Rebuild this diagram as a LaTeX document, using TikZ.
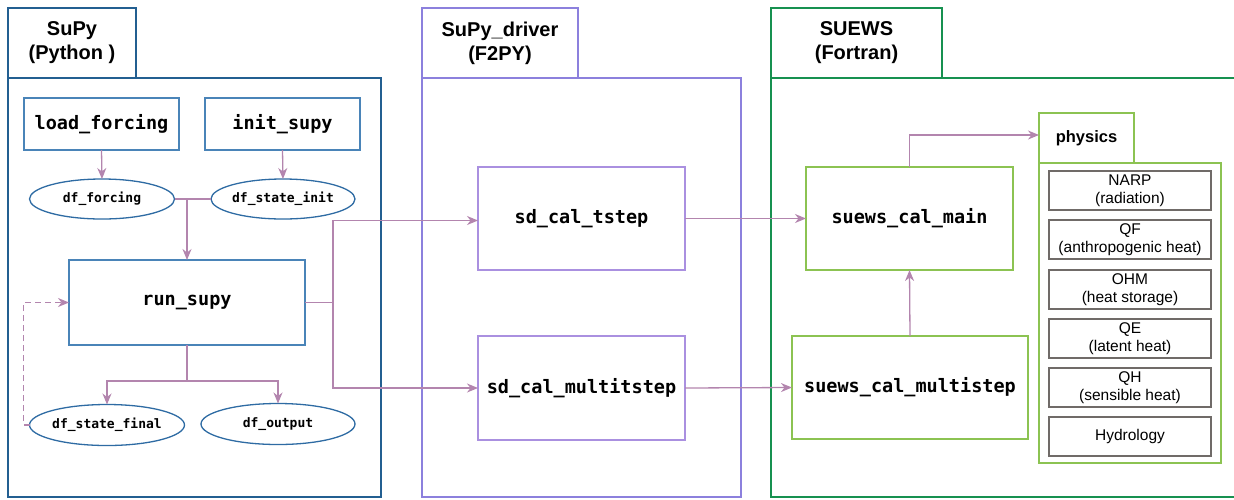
\documentclass[tikz,border=0pt]{standalone}
\usepackage{fontspec}
\setmainfont{Liberation Sans}
\setmonofont{DejaVu Sans Mono}
\usetikzlibrary{shapes.geometric,arrows.meta}
\definecolor{supyc}{HTML}{235F91}
\definecolor{supyin}{HTML}{4A84B8}
\definecolor{ellc}{HTML}{2E6BA3}
\definecolor{drvc}{HTML}{8C80DD}
\definecolor{drvin}{HTML}{AA90E0}
\definecolor{suc}{HTML}{179150}
\definecolor{suin}{HTML}{8CC352}
\definecolor{arrc}{HTML}{B385AE}
\definecolor{grayc}{HTML}{706B68}
\begin{document}
\begin{tikzpicture}[x=1pt,y=-1pt,
  frame/.style={draw, line width=2.5pt, outer sep=0pt, inner sep=0pt, anchor=north west},
  tabbox/.style={frame, align=center, font=\fontsize{20}{24}\selectfont\bfseries},
  box/.style={draw, line width=1.3pt, outer sep=0pt, inner sep=0pt, anchor=north west,
    font=\fontsize{18.5}{22}\selectfont\ttfamily\bfseries},
  ell/.style={ellipse, draw=ellc, line width=1.3pt, outer sep=0pt, inner sep=0pt,
    font=\fontsize{13}{15}\selectfont\ttfamily\bfseries},
  phys/.style={draw=grayc, line width=1.3pt, outer sep=0pt, inner sep=0pt, anchor=north west,
    minimum width=162pt, minimum height=39pt, align=center, font=\fontsize{15.5}{18}\selectfont},
  conn/.style={draw=arrc, line width=1.3pt, -{Stealth[length=11pt,width=9pt,inset=3.5pt]}},
  plain/.style={draw=arrc, line width=1.3pt}
]
\useasboundingbox (0,0) rectangle (1234,499);

% SuPy
\node[tabbox, draw=supyc, minimum width=128pt, minimum height=70pt] (supytab) at (8,8) {SuPy\\(Python )};
\node[frame, draw=supyc, minimum width=373pt, minimum height=419pt] (supy) at (8,78) {};
\node[box, draw=supyin, minimum width=155pt, minimum height=52pt] (load) at (24,98) {load\_forcing};
\node[box, draw=supyin, minimum width=155pt, minimum height=52pt] (init) at (205,98) {init\_supy};
\node[ell, minimum width=145pt, minimum height=40pt] (dff) at (102,199) {df\_forcing};
\node[ell, minimum width=144pt, minimum height=40pt] (dfsi) at (283,199) {df\_state\_init};
\node[box, draw=supyin, minimum width=236pt, minimum height=85pt] (run) at (69,260) {run\_supy};
\node[ell, minimum width=154pt, minimum height=41pt] (dsf) at (107,425) {df\_state\_final};
\node[ell, minimum width=154pt, minimum height=41pt] (dfo) at (278,424) {df\_output};

% SuPy_driver
\node[tabbox, draw=drvc, minimum width=156pt, minimum height=70pt] (drvtab) at (422,8) {SuPy\_driver\\(F2PY)};
\node[frame, draw=drvc, minimum width=319pt, minimum height=419pt] (drv) at (422,78) {};
\node[box, draw=drvin, minimum width=207pt, minimum height=103pt] (tstep) at (478,167) {sd\_cal\_tstep};
\node[box, draw=drvin, minimum width=207pt, minimum height=104pt] (mstep) at (478,336) {sd\_cal\_multitstep};

% SUEWS
\node[tabbox, draw=suc, minimum width=171pt, minimum height=70pt] (sutab) at (771,8) {SUEWS\\(Fortran)};
\node[frame, draw=suc, minimum width=480pt, minimum height=419pt] (su) at (771,78) {};
\node[box, draw=suin, minimum width=207pt, minimum height=103pt] (main) at (806,167) {suews\_cal\_main};
\node[box, draw=suin, minimum width=236pt, minimum height=103pt] (smulti) at (792,336) {suews\_cal\_multistep};
\node[draw=suin, line width=1.3pt, outer sep=0pt, inner sep=0pt, anchor=north west,
  minimum width=95pt, minimum height=50pt, font=\fontsize{16.5}{20}\selectfont\bfseries] (phystab) at (1039,113) {physics};
\node[draw=suin, line width=1.3pt, outer sep=0pt, inner sep=0pt, anchor=north west,
  minimum width=182pt, minimum height=300pt] (physbox) at (1039,163) {};
\node[phys] (narp) at (1049,171) {NARP\\(radiation)};
\node[phys] (qf) at (1049,220) {QF\\(anthropogenic heat)};
\node[phys] (ohm) at (1049,270) {OHM\\(heat storage)};
\node[phys] (qe) at (1049,319) {QE\\(latent heat)};
\node[phys] (qh) at (1049,368) {QH\\(sensible heat)};
\node[phys] (hyd) at (1049,417) {Hydrology};

% junctions
\coordinate (jtop) at (run.north |- dff.east);
\coordinate (jbot) at ([yshift=-36pt]run.south);
\coordinate (jright) at ([xshift=28pt]run.east);

% connectors
\draw[conn] (load.south) -- (dff.north);
\draw[conn] (init.south) -- (dfsi.north);
\draw[plain] (dff.east) -- (dfsi.west);
\draw[conn] (jtop) -- (run.north);
\draw[plain] (run.south) -- (jbot);
\draw[conn] (jbot) -| (dsf.north);
\draw[conn] (jbot) -| (dfo.north);
\draw[conn, dash pattern=on 6pt off 4pt] (dsf.west) -- ++(-6,0) |- (run.west);
\draw[plain] (run.east) -- (jright);
\draw[conn] (jright) |- ([yshift=-2pt]tstep.west);
\draw[conn] (jright) |- (mstep.west);
\draw[conn] (tstep.east) -- (main.west);
\draw[conn] (mstep.east) -- (smulti.west);
\draw[conn] (smulti.north) -- (main.south);
\draw[conn] (main.north) |- ([yshift=3pt]phystab.west);
\end{tikzpicture}
\end{document}
